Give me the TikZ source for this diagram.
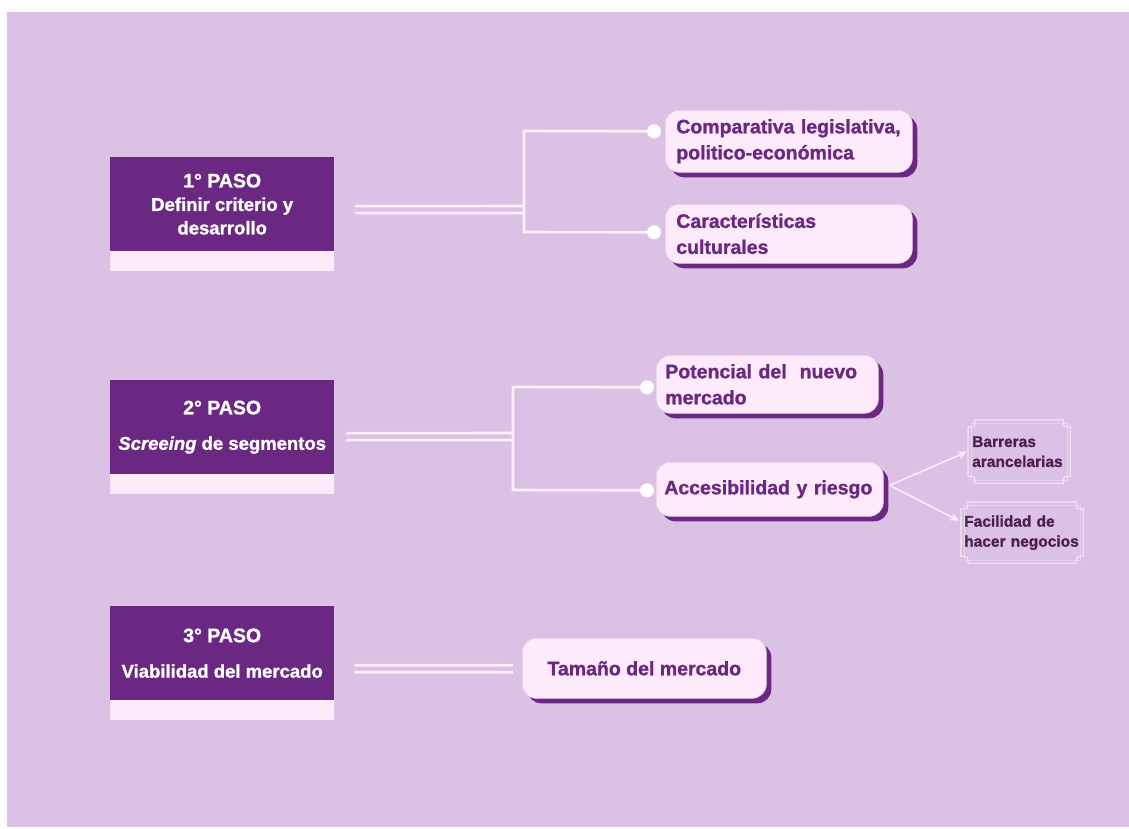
\documentclass[tikz,border=0pt]{standalone}
\usepackage{fontspec}
\setmainfont{Liberation Sans}[BoldFeatures={FakeBold=1.2},BoldItalicFeatures={FakeBold=1.2}]
\usetikzlibrary{arrows.meta,calc,shadows}
\definecolor{bg}{HTML}{DBC2E4}
\definecolor{dkp}{HTML}{6A2883}
\definecolor{pk}{HTML}{FDEBFB}
\definecolor{ln}{HTML}{FCF0FB}
\definecolor{subtxt}{HTML}{4B1F4F}
\definecolor{subln}{HTML}{F3E4F3}
\begin{document}
\begin{tikzpicture}[x=1pt,y=-1pt,
  stepbox/.style={fill=dkp, text=white, font=\bfseries\fontsize{18.5}{23.5}\selectfont, align=center,
    minimum width=224pt, minimum height=94pt, anchor=north west, inner sep=0pt},
  stripbox/.style={fill=pk, minimum width=224pt, minimum height=20pt, anchor=north west, inner sep=0pt},
  pinkbox/.style={fill=pk, draw=pk!85!dkp, line width=0.6pt, rounded corners=14pt, text=dkp,
    font=\bfseries\fontsize{19.5}{26}\selectfont, align=left, anchor=north west, inner ysep=0pt, inner xsep=10pt,
    drop shadow={shadow xshift=5pt, shadow yshift=-5pt, fill=dkp, opacity=1}},
  subbox/.style={text=subtxt, font=\bfseries\fontsize{15.5}{20}\selectfont, align=left, anchor=north west,
    inner ysep=0pt, inner xsep=4pt},
  wline/.style={draw=ln, line width=2.6pt},
  dline/.style={draw=ln, line width=2.6pt},
  dot/.style={circle, fill=white, minimum size=14pt, inner sep=0pt},
  arr/.style={draw=ln, line width=1.5pt, -{Stealth[length=9pt,width=8pt]}},
  notch/.style={draw=subln, line width=1.1pt},
  innerln/.style={draw=subln, draw opacity=0.5, line width=0.5pt}
]
\useasboundingbox (0,0) rectangle (1129,829);
\fill[white] (0,0) rectangle (1129,829);
\fill[bg] (7,12) rectangle (1129,827);

% ---------- Step boxes ----------
\node[stepbox] (s1) at (110,157) {\fontsize{19.5}{23.5}\selectfont 1° PASO\\Definir criterio y\\desarrollo};
\node[stripbox] (s1b) at (110,251) {};
\node[stepbox] (s2) at (110,380) {\fontsize{19.5}{23.5}\selectfont 2° PASO\\[12pt]\textit{Screeing} de segmentos};
\node[stripbox] (s2b) at (110,474) {};
\node[stepbox] (s3) at (110,606) {\fontsize{19.5}{23.5}\selectfont 3° PASO\\[12pt]Viabilidad del mercado};
\node[stripbox] (s3b) at (110,700) {};

% ---------- Pink boxes ----------
\node[pinkbox, minimum width=247pt, minimum height=62pt, text width=225pt, inner xsep=11pt] (c1) at (665,110)
  {Comparativa legislativa,\\politico-económica};
\node[pinkbox, minimum width=247pt, minimum height=59pt, text width=225pt, inner xsep=11pt] (c2) at (665,204)
  {Características\\culturales};
\node[pinkbox, minimum width=222pt, minimum height=58pt, text width=204pt, inner xsep=9pt] (p1) at (656,355)
  {Potencial del\ \ nuevo\\mercado};
\node[pinkbox, minimum width=227pt, minimum height=54pt, text width=211pt, inner xsep=8pt] (p2) at (656,462)
  {Accesibilidad y riesgo};
\node[pinkbox, minimum width=244pt, minimum height=60pt, align=center] (t1) at (522,638)
  {Tamaño del mercado};

% ---------- Sub boxes ----------
\node[subbox, minimum width=102pt, minimum height=63pt, text width=94pt] (bar) at (968,420)
  {Barreras\\arancelarias};
\node[subbox, minimum width=122pt, minimum height=61pt, text width=116pt, inner xsep=3pt] (fac) at (961,502)
  {Facilidad de\\hacer negocios};
\foreach \n in {bar,fac}{
  \draw[notch] ($(\n.north west)+(7,0)$) -- ($(\n.north east)+(-7,0)$)
     .. controls ($(\n.north east)+(-7,7)$) .. ($(\n.north east)+(0,7)$)
     -- ($(\n.south east)+(0,-7)$)
     .. controls ($(\n.south east)+(-7,-7)$) .. ($(\n.south east)+(-7,0)$)
     -- ($(\n.south west)+(7,0)$)
     .. controls ($(\n.south west)+(7,-7)$) .. ($(\n.south west)+(0,-7)$)
     -- ($(\n.north west)+(0,7)$)
     .. controls ($(\n.north west)+(7,7)$) .. cycle;
  \draw[innerln] ($(\n.north west)+(3,3)$) rectangle ($(\n.south east)+(-3,-3)$);
}

% ---------- Connectors step 1 ----------
\coordinate (b1t) at (524,131);
\coordinate (b1b) at (524,232);
\coordinate (d11) at ($(c1.west)+(-11,-10)$);
\coordinate (d12) at ($(c2.west)+(-11,-1.5)$);
\draw[wline] (d11) -- (b1t) -- (b1b) -- (d12);
\draw[dline] ($(s1.east)+(21,2)$) -- (524,206);
\draw[dline] ($(s1.east)+(21,9)$) -- (524,213);
\node[dot] at (d11) {};
\node[dot] at (d12) {};

% ---------- Connectors step 2 ----------
\coordinate (b2t) at (513,387);
\coordinate (b2b) at (513,490);
\coordinate (d21) at ($(p1.west)+(-9,3)$);
\coordinate (d22) at ($(p2.west)+(-9,1)$);
\draw[wline] (d21) -- (b2t) -- (b2b) -- (d22);
\draw[dline] ($(s2.east)+(12,6)$) -- (513,433);
\draw[dline] ($(s2.east)+(12,13)$) -- (513,440);
\node[dot] at (d21) {};
\node[dot] at (d22) {};

% ---------- Connectors step 3 ----------
\draw[dline] ($(s3.east)+(20,12)$) -- ($(t1.west)+(-9,-3)$);
\draw[dline] ($(s3.east)+(20,19)$) -- ($(t1.west)+(-9,4)$);

% ---------- Arrows to sub boxes ----------
\coordinate (a0) at ($(p2.east)+(6,-4)$);
\draw[arr] (a0) -- ($(bar.west)+(-1,0)$);
\draw[arr] (a0) -- ($(fac.west)+(-2,-12)$);
\end{tikzpicture}
\end{document}
